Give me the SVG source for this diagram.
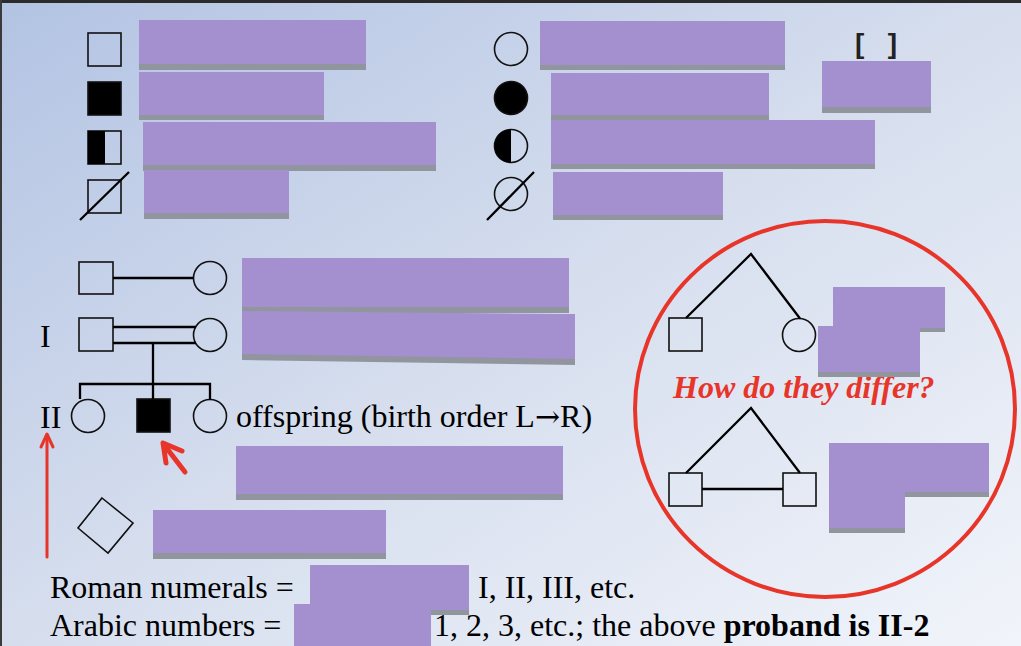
<svg xmlns="http://www.w3.org/2000/svg" width="1021" height="646" viewBox="0 0 1021 646">
<defs>
<linearGradient id="bg" x1="0" y1="0" x2="1" y2="1">
<stop offset="0" stop-color="#b2c3e3"/>
<stop offset="0.5" stop-color="#d6deee"/>
<stop offset="1" stop-color="#f1f4fa"/>
</linearGradient>
<style>
.sym{fill:none;stroke:#111;stroke-width:1.6}
.fill{fill:#000;stroke:#111;stroke-width:1.6}
.ln{fill:none;stroke:#000;stroke-width:2.3}
.red{fill:none;stroke:#e8352a;stroke-linecap:round;stroke-linejoin:round}
.t{font-family:"Liberation Serif","Times New Roman",serif;font-size:32px;fill:#000}
.pr{fill:#a48fcf}
.sh{fill:#90959e}
</style>
</defs>
<rect x="0" y="0" width="1021" height="646" fill="url(#bg)"/>
<rect x="0" y="0" width="1021" height="3" fill="#2b2b2b"/>
<rect x="0" y="0" width="2" height="646" fill="#3a3a3a"/>

<!-- legend: male symbols -->
<g id="male-unaffected"><rect class="sym" x="88" y="33" width="33" height="33"/></g>
<g id="male-affected"><rect class="fill" x="88" y="82" width="33" height="33"/></g>
<g id="male-carrier"><rect class="sym" x="88" y="131" width="33" height="33"/><rect x="88" y="131" width="17" height="33" fill="#000"/></g>
<g id="male-deceased"><rect class="sym" x="88" y="180" width="33" height="33"/><line class="ln" x1="80" y1="220" x2="129" y2="172"/></g>

<!-- legend: female symbols -->
<g id="female-unaffected"><circle class="sym" cx="511" cy="49" r="16.5"/></g>
<g id="female-affected"><circle class="fill" cx="511" cy="98" r="16.5"/></g>
<g id="female-carrier"><circle class="sym" cx="511" cy="146" r="16.5"/><path d="M511 129.5 A16.5 16.5 0 0 0 511 162.5 Z" fill="#000"/></g>
<g id="female-deceased"><circle class="sym" cx="511" cy="194" r="16.5"/><line class="ln" x1="487" y1="220" x2="534" y2="172"/></g>

<g id="bracket-label"><text x="855" y="53" font-family="Liberation Sans,Arial,sans-serif" font-weight="bold" font-size="28" fill="#222" xml:space="preserve">[   ]</text></g>

<!-- mating example -->
<g id="mating-male"><rect class="sym" x="79" y="262" width="34" height="32"/></g>
<g id="mating-female"><circle class="sym" cx="210" cy="278" r="16.5"/></g>

<!-- generation I -->
<g id="label-I"><text class="t" x="40" y="347">I</text></g>
<g id="I-1"><rect class="sym" x="79" y="318" width="34" height="33"/></g>
<g id="I-2"><circle class="sym" cx="210" cy="335" r="16.5"/></g>

<!-- generation II -->
<g id="label-II"><text class="t" x="40" y="428">II</text></g>
<g id="II-1"><circle class="sym" cx="88" cy="416" r="16.5"/></g>
<g id="II-2"><rect class="fill" x="137" y="399" width="33" height="33"/></g>
<g id="II-3"><circle class="sym" cx="210" cy="416" r="16.5"/></g>
<g id="offspring-label"><text class="t" x="236" y="427">offspring (birth order L<tspan font-family="DejaVu Serif,serif" font-size="30">→</tspan>R)</text></g>

<g id="sex-unknown"><polygon class="sym" points="102,498 133,523 108,553 78,528"/></g>

<!-- circle comparison -->
<g id="twins-top-left"><rect class="sym" x="669" y="318" width="33" height="33"/></g>
<g id="twins-top-right"><circle class="sym" cx="799" cy="335" r="16.5"/></g>
<g id="twins-bottom-left"><rect class="sym" x="669" y="473" width="33" height="33"/></g>
<g id="twins-bottom-right"><rect class="sym" x="783" y="473" width="33" height="33"/></g>
<g id="question"><text x="673" y="398" font-family="Liberation Serif,'Times New Roman',serif" font-size="32" font-weight="bold" font-style="italic" fill="#e8352a">How do they differ?</text></g>
<g id="highlight-circle"><ellipse cx="825" cy="409" rx="190" ry="188" fill="none" stroke="#e8352a" stroke-width="4"/></g>

<!-- connectors -->
<g id="connectors">
<line class="ln" x1="113" y1="278" x2="193.5" y2="278"/>
<line class="ln" x1="113" y1="327" x2="196" y2="327"/>
<line class="ln" x1="113" y1="343" x2="196" y2="343"/>
<line class="ln" x1="153" y1="343" x2="153" y2="399"/>
<polyline class="ln" points="80,399 80,384 210,384 210,399.5"/>
<polyline class="ln" points="686,318 751,254 800,318.5"/>
<polyline class="ln" points="686,473 751,408 800,473"/>
<line class="ln" x1="702" y1="489" x2="783" y2="489"/>
</g>

<!-- annotation arrows -->
<g id="arrows">
<line class="red" stroke-width="3" x1="47" y1="435" x2="47" y2="557"/>
<polyline class="red" stroke-width="3" points="41,447 47,434 53,447"/>
<line class="red" stroke-width="5" x1="165" y1="446" x2="185" y2="472"/>
<polyline class="red" stroke-width="5" points="166,463 163,443 182,451"/>
</g>

<!-- bottom text -->
<g id="notes">
<text class="t" x="50" y="598">Roman numerals = </text>
<text class="t" x="478" y="598">I, II, III, etc.</text>
<text class="t" x="50" y="636">Arabic numbers = </text>
<text class="t" x="434" y="636">1, 2, 3, etc.; the above <tspan font-weight="bold">proband is II-2</tspan></text>
</g>

<!-- redaction blocks -->
<g id="redactions">
<rect class="sh" x="139" y="22" width="227" height="48"/><rect class="pr" x="139" y="20" width="227" height="44"/>
<rect class="sh" x="139" y="74" width="185" height="46"/><rect class="pr" x="139" y="72" width="185" height="43"/>
<rect class="sh" x="143" y="124" width="293" height="47"/><rect class="pr" x="143" y="122" width="293" height="43"/>
<rect class="sh" x="144" y="172" width="145" height="47"/><rect class="pr" x="144" y="170" width="145" height="43"/>
<rect class="sh" x="540" y="23" width="245" height="47"/><rect class="pr" x="540" y="21" width="245" height="44"/>
<rect class="sh" x="551" y="75" width="218" height="45"/><rect class="pr" x="551" y="73" width="218" height="42"/>
<rect class="sh" x="551" y="122" width="324" height="47"/><rect class="pr" x="551" y="120" width="324" height="44"/>
<rect class="sh" x="553" y="174" width="170" height="46"/><rect class="pr" x="553" y="172" width="170" height="43"/>
<rect class="sh" x="822" y="63" width="109" height="50"/><rect class="pr" x="822" y="61" width="109" height="46"/>
<rect class="sh" x="242" y="260" width="327" height="53"/><rect class="pr" x="242" y="258" width="327" height="49"/>
<path class="sh" d="M242 313 L575 316 L575 365 L242 360 Z"/><path class="pr" d="M242 311 L575 314 L575 359 L242 354 Z"/>
<rect class="sh" x="236" y="448" width="327" height="52"/><rect class="pr" x="236" y="446" width="327" height="48"/>
<rect class="sh" x="153" y="512" width="233" height="47"/><rect class="pr" x="153" y="510" width="233" height="43"/>
<path class="sh" d="M833 289 L945 289 L945 332 L920 332 L920 377 L818 377 L818 330 L833 330 Z"/>
<path class="pr" d="M833 287 L945 287 L945 328 L920 328 L920 372 L818 372 L818 326 L833 326 Z"/>
<path class="sh" d="M829 445 L989 445 L989 497 L905 497 L905 533 L829 533 Z"/>
<path class="pr" d="M829 443 L989 443 L989 492 L905 492 L905 528 L829 528 Z"/>
<rect class="sh" x="310" y="567" width="159" height="48"/><rect class="pr" x="310" y="565" width="159" height="45"/>
<rect class="pr" x="294" y="604" width="137" height="42"/>
</g>
</svg>
